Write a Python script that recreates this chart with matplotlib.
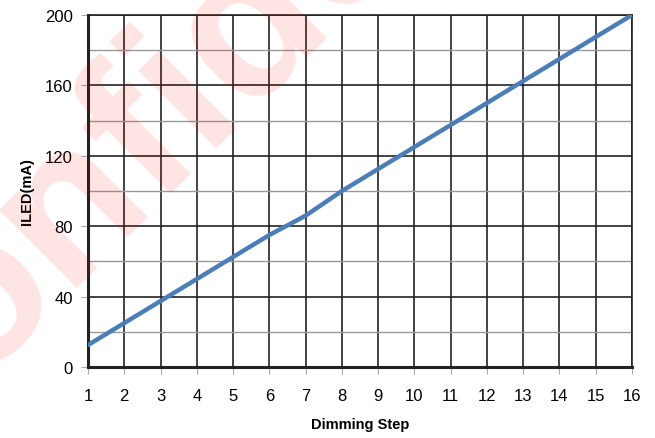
import matplotlib.pyplot as plt
from matplotlib.ticker import MultipleLocator

plt.rcParams['font.family'] = ['Liberation Sans', 'DejaVu Sans']

steps = list(range(1, 17))
iled = [12.5, 25, 37.5, 50, 62.5, 75, 86, 100, 112.5, 125, 137.5, 150, 162.5, 175, 187.5, 200]

fig = plt.figure(figsize=(6.55, 4.39), dpi=100)
# faint watermark behind the chart
fig.text(-0.2, -0.11, 'Confidential', fontsize=150, fontweight='bold',
         color='#ff0000', alpha=0.11, rotation=45, rotation_mode='anchor',
         ha='left', va='baseline', zorder=0)

ax = fig.add_axes([0.1344, 0.1617, 0.8305, 0.8019])
ax.patch.set_alpha(0)

ax.plot(steps, iled, color='#4a7ebb', lw=3.2, zorder=5, solid_capstyle='round')

ax.set_xlim(1, 16)
ax.set_ylim(0, 200)
ax.set_xticks(steps)
ax.yaxis.set_major_locator(MultipleLocator(40))
ax.yaxis.set_minor_locator(MultipleLocator(20))

ax.grid(which='major', axis='both', color='#222222', lw=1.2)
ax.grid(which='minor', axis='y', color='#999999', lw=1.0)
ax.set_axisbelow(True)

for s in ['top', 'right']:
    ax.spines[s].set_linewidth(1.2)
    ax.spines[s].set_color('#222222')
for s in ['left', 'bottom']:
    ax.spines[s].set_linewidth(2.2)
    ax.spines[s].set_color('#222222')

ax.tick_params(which='major', length=5, color='#aaaaaa', labelsize=12, pad=6)
ax.tick_params(which='minor', length=0)
ax.tick_params(axis='x', pad=10)

ax.set_xlabel('Dimming Step', fontsize=10.5, fontweight='bold', labelpad=10)
ax.set_ylabel('ILED(mA)', fontsize=10.5, fontweight='bold', labelpad=8)

fig.savefig('out.png', dpi=100)
